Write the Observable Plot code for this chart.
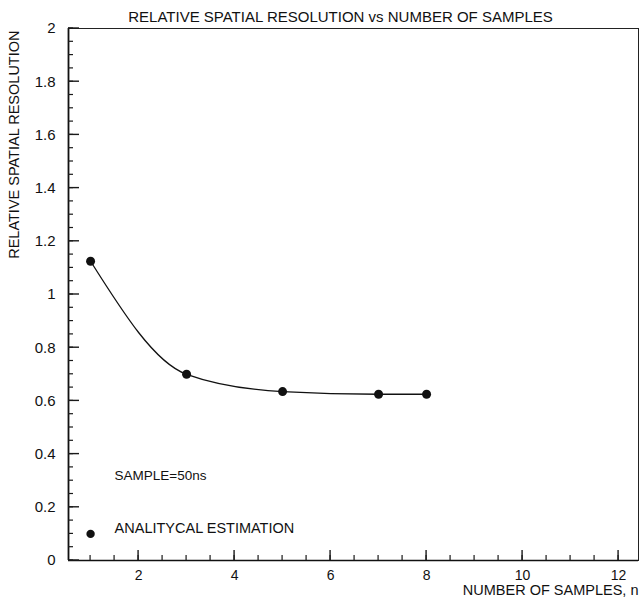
<!DOCTYPE html>
<html>
<head>
<meta charset="utf-8">
<script src="https://cdn.jsdelivr.net/npm/d3@7"></script>
<script src="https://cdn.jsdelivr.net/npm/@observablehq/plot@0.6"></script>
<style>
  html, body { margin: 0; padding: 0; background: #fff; }
  svg { display: block; }
</style>
</head>
<body>
<div id="chart"></div>
<script>
// Relative spatial resolution against number of samples (sample = 50 ns)
const samples = [1, 3, 5, 7, 8];
const resolution = [1.125, 0.70, 0.635, 0.625, 0.625];

const xMajorTicks = [2, 4, 6, 8, 10, 12];
const xMinorTicks = d3.range(1, 12.5, 0.5);
const yMajorTicks = [0, 0.2, 0.4, 0.6, 0.8, 1, 1.2, 1.4, 1.6, 1.8, 2];
const yMinorTicks = d3.range(0, 2.001, 0.05);
const yTickLabels = ["0", "0.2", "0.4", "0.6", "0.8", "1", "1.2", "1.4", "1.6", "1.8", "2"];

const title = "RELATIVE SPATIAL RESOLUTION vs NUMBER OF SAMPLES";
const yTitle = "RELATIVE SPATIAL RESOLUTION";
const xTitle = "NUMBER OF SAMPLES, n";
const noteText = "SAMPLE=50ns";
const legendText = "ANALITYCAL ESTIMATION";

const points = samples.map((n, i) => ({n, v: resolution[i]}));

const font = "'Liberation Sans', Arial, Helvetica, sans-serif";

const W = 642, H = 599;
const margin = {left: 68, right: 4, top: 28, bottom: 39};
const xDomain = [0.54, 12.415];
const yDomain = [0, 2];

const chart = Plot.plot({
  width: W,
  height: H,
  marginLeft: margin.left,
  marginRight: margin.right,
  marginTop: margin.top,
  marginBottom: margin.bottom,
  style: {fontFamily: font, fontSize: "15px", background: "#fff"},
  x: {domain: xDomain},
  y: {domain: yDomain},
  marks: [
    Plot.frame({stroke: "#222", strokeWidth: 1}),
    // tick labels
    Plot.axisX(xMajorTicks, {tickSize: 0, tickPadding: 10, label: null, fontSize: 14, fill: "#111"}),
    Plot.axisY(yMajorTicks, {tickSize: 0, tickPadding: 13, label: null, fontSize: 15, fill: "#111",
      tickFormat: (d) => yTickLabels[yMajorTicks.indexOf(d)]}),
    Plot.ruleX([xDomain[0]], {stroke: "#111", strokeWidth: 1.8}),
    Plot.ruleY([yDomain[0]], {stroke: "#111", strokeWidth: 1.5}),
    // curve and estimates
    Plot.line(points, {x: "n", y: "v", curve: "monotone-x", stroke: "#111", strokeWidth: 1.3}),
    Plot.dot(points, {x: "n", y: "v", r: 4.5, fill: "#111", stroke: "none"}),
    // legend and note
    Plot.dot([{n: 1, v: 0.10}], {x: "n", y: "v", r: 4.2, fill: "#111", stroke: "none"}),
    Plot.text([legendText], {x: 1.5, y: 0.12, text: d => d, textAnchor: "start", fontSize: 14.5, fill: "#111"}),
    Plot.text([noteText], {x: 1.5, y: 0.32, text: d => d, textAnchor: "start", fontSize: 13.5, fill: "#111"}),
    // titles
    Plot.text([title], {frameAnchor: "top", dx: -13, dy: -17, text: d => d, fontSize: 15, fill: "#111"}),
    Plot.text([yTitle], {frameAnchor: "top-left", dx: -60, dy: 2, rotate: -90, textAnchor: "end", text: d => d, fontSize: 14.5, fill: "#111"}),
    Plot.text([xTitle], {frameAnchor: "bottom-right", dy: 34, textAnchor: "end", text: d => d, fontSize: 14.5, fill: "#111"})
  ]
});

// inward ticks along the bottom and left edges, placed with the plot's own scales
const sx = chart.scale("x");
const sy = chart.scale("y");
const x0 = sx.apply(xDomain[0]);
const y0 = sy.apply(yDomain[0]);
const ticks = d3.select(chart).append("g")
  .attr("stroke", "#1a1a1a")
  .attr("fill", "none");

ticks.selectAll(null).data(xMinorTicks).join("line")
  .attr("x1", d => sx.apply(d)).attr("x2", d => sx.apply(d))
  .attr("y1", y0).attr("y2", y0 - 5)
  .attr("stroke-width", 1.2);
ticks.selectAll(null).data(xMajorTicks).join("line")
  .attr("x1", d => sx.apply(d)).attr("x2", d => sx.apply(d))
  .attr("y1", y0).attr("y2", y0 - 10)
  .attr("stroke-width", 1.4);
ticks.selectAll(null).data(yMinorTicks).join("line")
  .attr("y1", d => sy.apply(d)).attr("y2", d => sy.apply(d))
  .attr("x1", x0).attr("x2", x0 + 5)
  .attr("stroke-width", 1.2);
ticks.selectAll(null).data(yMajorTicks).join("line")
  .attr("y1", d => sy.apply(d)).attr("y2", d => sy.apply(d))
  .attr("x1", x0).attr("x2", x0 + 11)
  .attr("stroke-width", 1.4);

document.getElementById("chart").appendChild(chart);
</script>
</body>
</html>
